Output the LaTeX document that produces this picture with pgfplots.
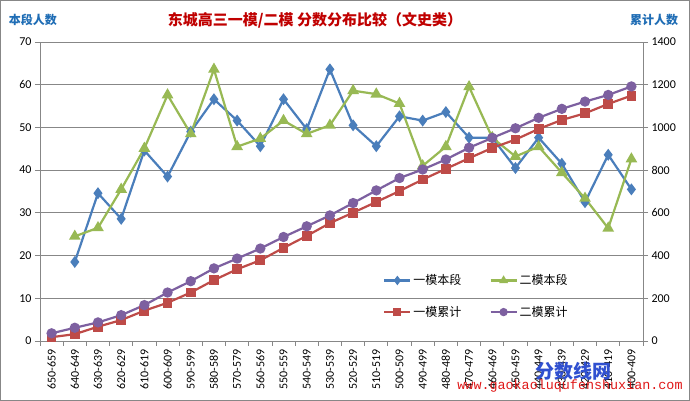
\documentclass[border=0pt]{standalone}
\usepackage{fontspec}
\setmainfont{Carlito}
\newfontfamily\cjk{Noto Sans CJK SC}
\newfontfamily\wmono{Liberation Mono}
\usepackage{pgfplots}
\usepackage{pgfplotstable}
\pgfplotsset{compat=1.18}

\definecolor{c1}{HTML}{4A7EBB}
\definecolor{c2}{HTML}{98B954}
\definecolor{c3}{HTML}{BE4B48}
\definecolor{c4}{HTML}{7D60A0}
\definecolor{gridc}{HTML}{878787}
\definecolor{titlec}{HTML}{C00000}
\definecolor{axtitle}{HTML}{1F6DB5}
\definecolor{wmblue}{HTML}{3050D0}
\definecolor{wmred}{HTML}{E01818}

\pgfplotstableread{
i b g
1 18.5 24.5
2 34.6 26.5
3 28.6 35.5
4 44.6 45.1
5 38.5 57.6
6 49.0 48.5
7 56.6 63.6
8 51.6 45.5
9 45.6 47.4
10 56.6 51.6
11 49.6 48.5
12 63.6 50.5
13 50.5 58.6
14 45.6 57.8
15 52.6 55.6
16 51.6 41.0
17 53.6 45.5
18 47.6 59.5
19 47.6 47.6
20 40.5 43.2
21 47.6 45.5
22 41.5 39.4
23 32.5 33.4
24 43.6 26.4
25 35.5 42.6
}\bendata

\pgfplotstableread{
i r p
0 18 36
1 32 62
2 67 87
3 98 121
4 142 168
5 179 227
6 227 280
7 285 340
8 336 386
9 378 433
10 436 487
11 492 537
12 552 588
13 601 646
14 651 705
15 702 763
16 756 803
17 806 850
18 856 905
19 904 951
20 943 996
21 993 1045
22 1035 1087
23 1066 1121
24 1110 1152
25 1149 1192
}\cumdata

\pgfplotsset{
  s1/.style={color=c1, line width=2.2pt, mark=diamond*, mark size=4.2pt, mark options={solid,fill=c1}},
  s2/.style={color=c2, line width=2.2pt, mark=triangle*, mark size=4.6pt, mark options={solid,fill=c2}},
  s3/.style={color=c3, line width=2.2pt, mark=square*, mark size=3.8pt, mark options={solid,fill=c3}},
  s4/.style={color=c4, line width=2.2pt, mark=*, mark size=4pt, mark options={solid,fill=c4}},
  common/.style={
    at={(40pt,60pt)}, anchor=south west,
    scale only axis, width=603pt, height=299pt,
    xmin=-0.5, xmax=25.5,
    tick align=outside, major tick length=5pt, minor tick length=5pt,
    axis line style={gridc, line width=0.8pt, -},
    every tick/.style={gridc, line width=0.8pt},
    tick label style={font=\fontsize{12}{14}\selectfont, text=black},
    /pgf/number format/assume math mode=true,
    /pgf/number format/1000 sep={},
    clip=false,
  },
}

\begin{document}
\begin{tikzpicture}[x=1pt,y=1pt]
\path[use as bounding box] (0,0) rectangle (690,401);
\fill[white] (0,0) rectangle (690,401);

\begin{axis}[common,
  ymin=0, ymax=70, ytick={0,10,...,70},
  axis x line*=bottom, axis y line*=left,
  ymajorgrids, grid style={gridc, line width=0.8pt},
  xtick={0,...,25},
  xticklabels={650-659,640-649,630-639,620-629,610-619,600-609,590-599,580-589,570-579,560-569,550-559,540-549,530-539,520-529,510-519,500-509,490-499,480-489,470-479,460-469,450-459,440-449,430-439,420-429,410-419,400-409},
  x tick label style={rotate=90, anchor=east},
  major x tick style={draw=none},
  minor xtick={-0.5,0.5,...,25.5},
  legend columns=2,
  legend cell align=left,
  legend style={at={(0.564,0.236)}, anchor=north west, draw=none, fill=none,
    font=\cjk\fontsize{12}{14}\selectfont,
    /tikz/every even column/.append style={column sep=26pt},
    row sep=16pt},
  legend image code/.code={\draw[mark repeat=2,mark phase=2,#1,mark size=3pt] plot coordinates {(0pt,0pt) (13pt,0pt) (26pt,0pt)};},
]
\addplot[s1] table[x=i,y=b] {\bendata};
\addlegendentry{一模本段}
\addplot[s2] table[x=i,y=g] {\bendata};
\addlegendentry{二模本段}
\addlegendimage{s3}
\addlegendentry{一模累计}
\addlegendimage{s4}
\addlegendentry{二模累计}
\end{axis}

\begin{axis}[common,
  ymin=0, ymax=1400, ytick={0,200,...,1400},
  axis y line*=right, hide x axis,
]
\addplot[s3] table[x=i,y=r] {\cumdata};
\addplot[s4] table[x=i,y=p] {\cumdata};
\end{axis}

\node[text=titlec, font=\cjk\bfseries\fontsize{15}{18}\selectfont] at (315,381) {东城高三一模/二模 分数分布比较（文史类）};
\node[text=axtitle, font=\cjk\bfseries\fontsize{12}{14}\selectfont] at (33,381) {本段人数};
\node[text=axtitle, font=\cjk\bfseries\fontsize{12}{14}\selectfont] at (654,381) {累计人数};

\node[text=wmblue, font=\cjk\bfseries\fontsize{19}{22}\selectfont] at (573,30) {分数线网};
\node[text=wmred, font=\wmono\fontsize{13.4}{15}\selectfont] at (570,15) {www.gaokaoluqufenshuxian.com};

\draw[gridc, line width=1pt] (0.5,0.5) rectangle (689.5,400.5);
\end{tikzpicture}
\end{document}
